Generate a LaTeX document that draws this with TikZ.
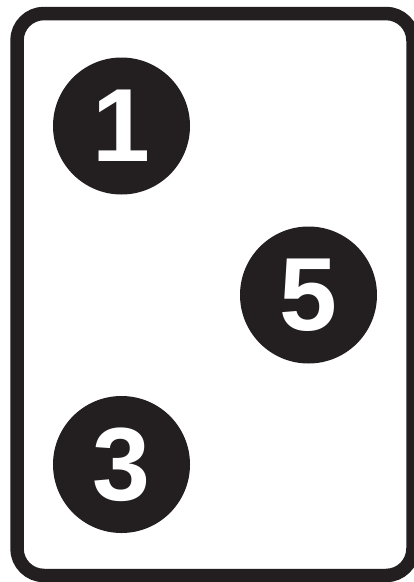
\documentclass[tikz,border=0pt]{standalone}
\usepackage{fontspec}
\setmainfont{Liberation Sans}
\usepackage{xcolor}
\usepackage{tikz}
\definecolor{ink}{HTML}{231F20}
\tikzset{
  card/.style={draw=ink,line width=13.5pt,rounded corners=27pt,fill=white},
  pip/.style={circle,fill=ink,minimum size=137pt,inner sep=0pt,text=white,
              font=\fontsize{104}{104}\selectfont\bfseries},
}
\begin{document}
\begin{tikzpicture}[x=1pt,y=-1pt]
\useasboundingbox (0,0) rectangle (414,582);
% card outline
\draw[card] (17,13.5) rectangle (413,575.5);
% pips
\node[pip] (n1) at (121.5,126) {1};
\node[pip] (n5) at (308.5,295) {5};
\node[pip] (n3) at (121.5,464.5) {3};
\end{tikzpicture}
\end{document}
